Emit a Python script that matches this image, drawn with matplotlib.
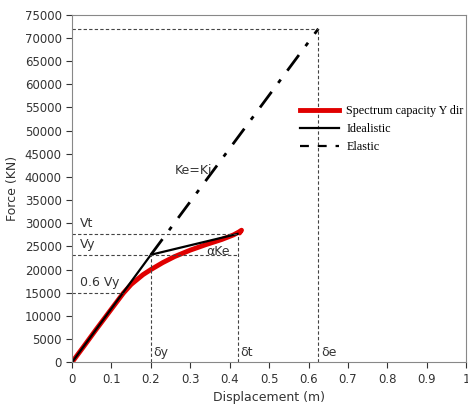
import numpy as np
import matplotlib
matplotlib.use('Agg')
import matplotlib.pyplot as plt
from matplotlib.lines import Line2D
from matplotlib.ticker import MultipleLocator

# capacity curve
cap_disp = [0, 0.03, 0.06, 0.1, 0.13, 0.15, 0.18, 0.2, 0.23, 0.26, 0.3, 0.34, 0.38, 0.41, 0.425, 0.43, 0.425]
cap_force = [0, 3450, 6950, 11500, 14900, 16800, 18900, 20000, 21500, 22800, 24200, 25400, 26500, 27500, 28200, 28500, 27900]

# bilinear idealisation
ideal_disp = [0, 0.2, 0.42]
ideal_force = [0, 23200, 27700]

# elastic line (Ke = Ki)
elastic_disp = [0.2, 0.625]
elastic_force = [23200, 72000]

# reference levels
d_y, d_t, d_e = 0.2, 0.42, 0.625
V_t, V_y, V_06 = 27700, 23200, 15000
V_e = 72000

fig = plt.figure(figsize=(4.68, 4.13), dpi=100)
ax = fig.add_axes([0.154, 0.123, 0.842, 0.841])

ax.plot(elastic_disp, elastic_force, color='black', lw=2, dashes=[7, 4, 1.5, 4])
ax.plot(cap_disp, cap_force, color='#e00000', lw=3.5, solid_capstyle='round')
ax.plot(ideal_disp, ideal_force, color='black', lw=1.6)

# dashed guides
gd = dict(color='#444444', lw=0.8, ls=(0, (3, 2)))
ax.plot([0, d_t], [V_t, V_t], **gd)
ax.plot([0, d_t], [V_y, V_y], **gd)
ax.plot([0, 0.13], [V_06, V_06], **gd)
ax.plot([0, d_e], [V_e, V_e], **gd)
ax.plot([d_y, d_y], [0, V_y], **gd)
ax.plot([d_t, d_t], [0, V_t], **gd)
ax.plot([d_e, d_e], [0, V_e], **gd)

tk = dict(fontsize=9, color='#333333')
ax.text(0.02, 28600, 'Vt', va='bottom', **tk)
ax.text(0.02, 24100, 'Vy', va='bottom', **tk)
ax.text(0.02, 15800, '0.6 Vy', va='bottom', **tk)
ax.text(d_y + 0.007, 700, 'δy', va='bottom', **tk)
ax.text(d_t + 0.007, 700, 'δt', va='bottom', **tk)
ax.text(d_e + 0.007, 700, 'δe', va='bottom', **tk)
ax.text(0.34, 24000, 'αKe', va='center', **tk)
ax.text(0.308, 41500, 'Ke=Ki', ha='center', va='center', **tk)

ax.set_xlim(0, 1)
ax.set_ylim(0, 75000)
ax.yaxis.set_major_locator(MultipleLocator(5000))
ax.set_xticks(np.arange(0, 1.01, 0.1))
ax.set_xticklabels(['0', '0.1', '0.2', '0.3', '0.4', '0.5', '0.6', '0.7', '0.8', '0.9', '1'])
ax.tick_params(labelsize=8.5, colors='#333333', length=4, width=0.8)
for s in ax.spines.values():
    s.set_color('#888888')
    s.set_linewidth(0.8)
ax.set_xlabel('Displacement (m)', fontsize=9, color='#333333')
ax.set_ylabel('Force (KN)', fontsize=9, color='#333333')

handles = [
    Line2D([], [], color='#e00000', lw=3.5),
    Line2D([], [], color='black', lw=1.6),
    Line2D([], [], color='black', lw=1.6, ls=(0, (4, 4))),
]
labels = ['Spectrum capacity Y dir', 'Idealistic', 'Elastic']
ax.legend(handles, labels, loc='center left', bbox_to_anchor=(0.579, 0.671), frameon=False,
          prop={'family': 'Liberation Serif', 'size': 8.7}, handlelength=3.2,
          handletextpad=0.6, labelspacing=0.5, borderaxespad=0, borderpad=0)

fig.savefig('out.png', dpi=100)
